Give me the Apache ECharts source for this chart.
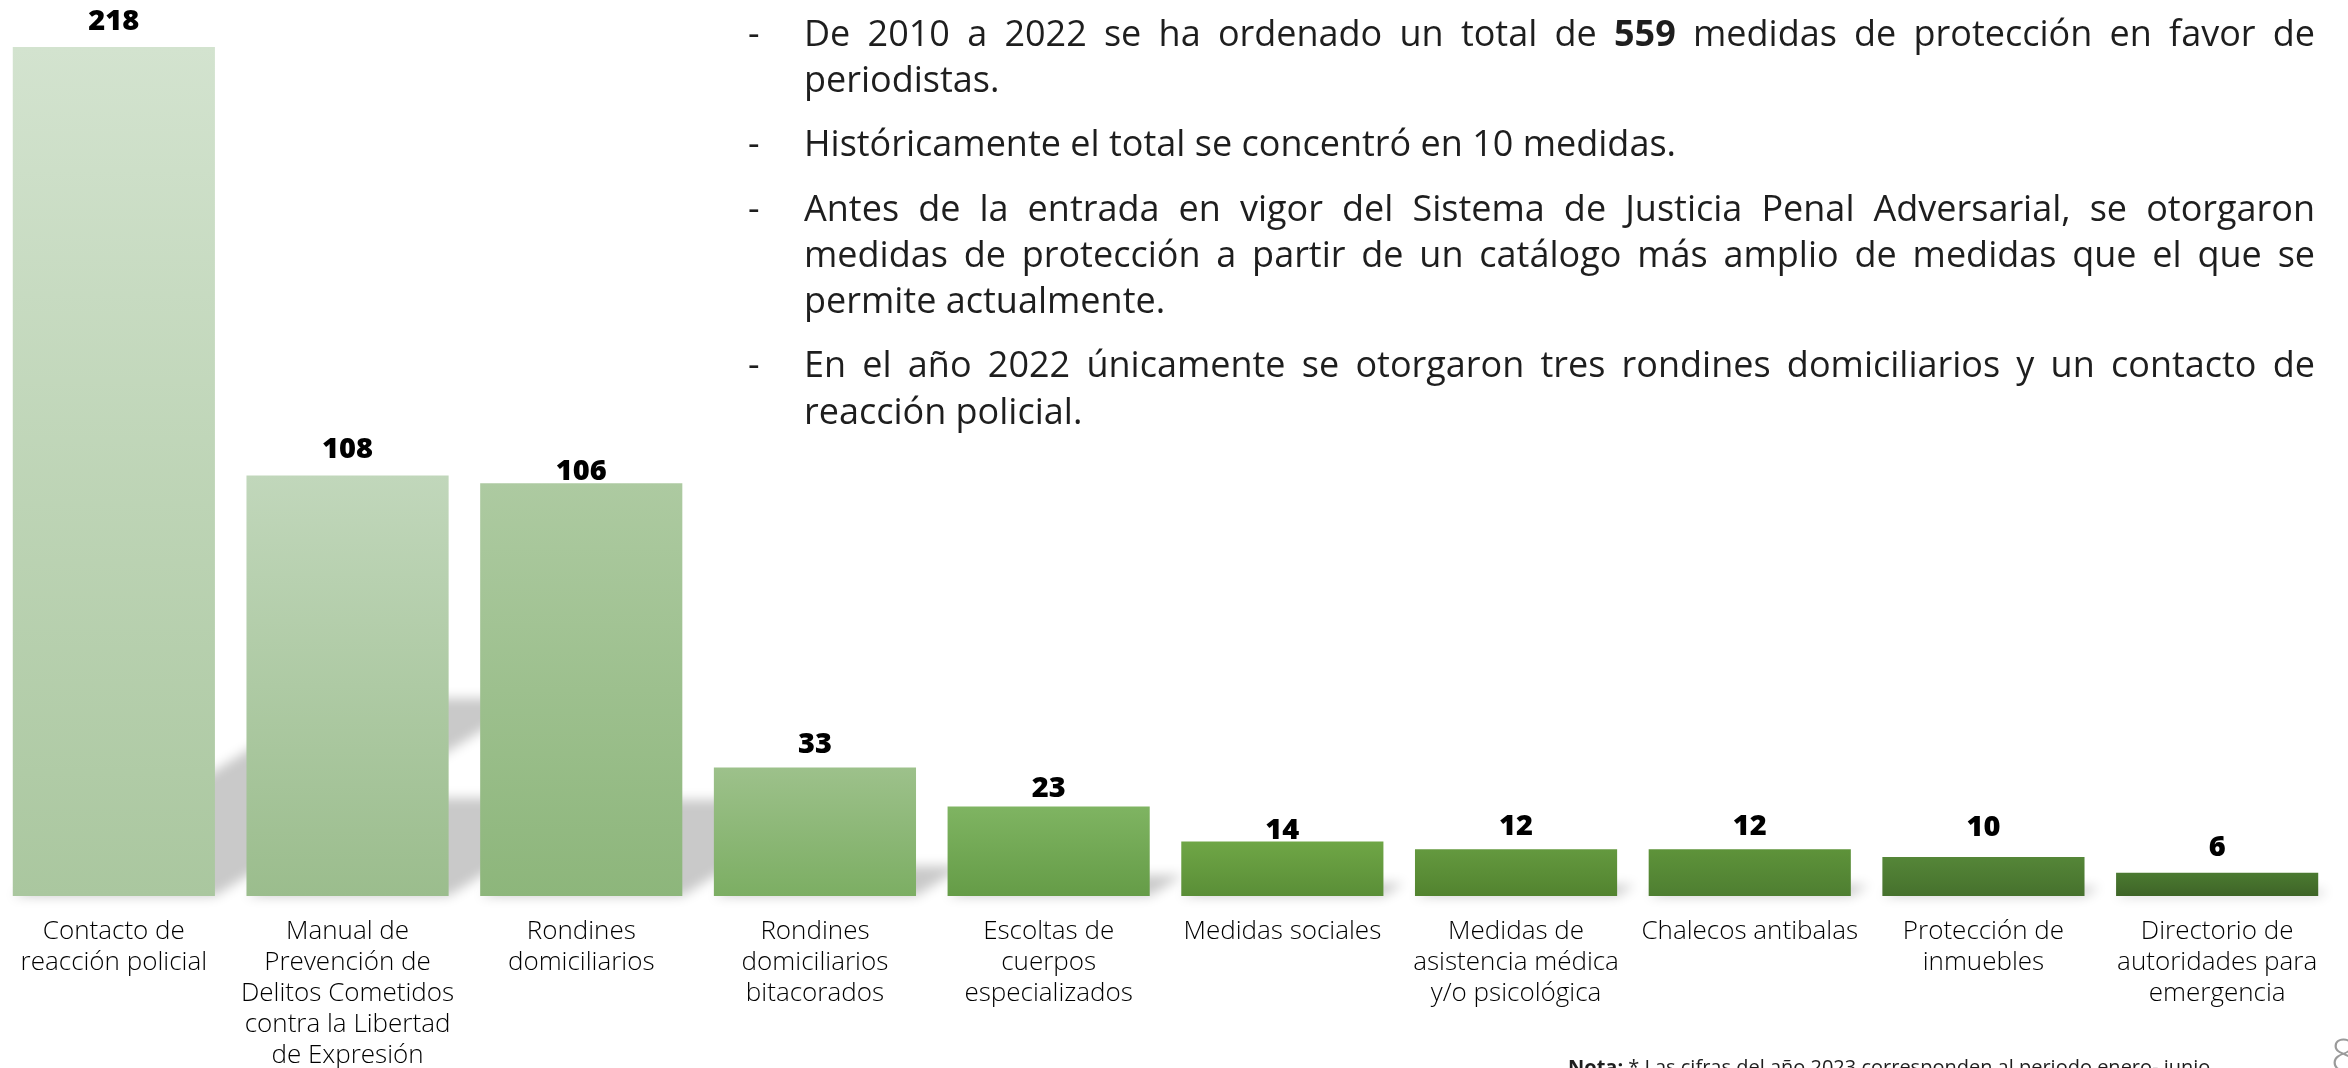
<!DOCTYPE html>
<html lang="es">
<head>
<meta charset="utf-8">
<title>Medidas de protección a periodistas 2010-2022</title>
<script src="https://cdn.jsdelivr.net/npm/echarts@6/dist/echarts.min.js"></script>
<style>
  html, body { margin: 0; padding: 0; background: #ffffff; }
  #chart { width: 2348px; height: 1068px; }
</style>
</head>
<body>
<div id="chart"></div>
<script>
// Medidas de protección otorgadas a periodistas, 2010-2022
const categories = [
  'Contacto de\nreacción policial',
  'Manual de\nPrevención de\nDelitos Cometidos\ncontra la Libertad\nde Expresión',
  'Rondines\ndomiciliarios',
  'Rondines\ndomiciliarios\nbitacorados',
  'Escoltas de\ncuerpos\nespecializados',
  'Medidas sociales',
  'Medidas de\nasistencia médica\ny/o psicológica',
  'Chalecos antibalas',
  'Protección de\ninmuebles',
  'Directorio de\nautoridades para\nemergencia'
];
const values = [218, 108, 106, 33, 23, 14, 12, 12, 10, 6];

// Bullet text beside the chart; **word** is set in bold
const notes = [
  ['De 2010 a 2022 se ha ordenado un total de **559** medidas de protección en favor de',
   'periodistas.'],
  ['Históricamente el total se concentró en 10 medidas.'],
  ['Antes de la entrada en vigor del Sistema de Justicia Penal Adversarial, se otorgaron',
   'medidas de protección a partir de un catálogo más amplio de medidas que el que se',
   'permite actualmente.'],
  ['En el año 2022 únicamente se otorgaron tres rondines domiciliarios y un contacto de',
   'reacción policial.']
];
const footNote = 'Las cifras del año 2023 corresponden al periodo enero- junio.';
const pageNumber = '8';

// ---- styling ----
const barTop    = ['#d3e3cf', '#c1d7bb', '#adcaa1', '#9dc18b', '#7fb462', '#6fa646', '#64993f', '#5e933a', '#558638', '#4b7a31'];
const barBottom = ['#aac79f', '#9bbd8d', '#8db67b', '#7cae63', '#659c47', '#5a8e37', '#52832f', '#4e7e31', '#46712d', '#3e6427'];
const labelGap  = [15, 15, 1, 12, 7, 0, 12, 12, 19, 14];   // space between value and bar top
const BAR_RATIO = 0.865;
const FONT = '"Open Sans", Lato, sans-serif';
const TEXT_COLOR = '#1e1e1e';

const chart = echarts.init(document.getElementById('chart'), null, { renderer: 'canvas' });

// ---- justified bullet text, laid out word by word ----
const measureCtx = document.createElement('canvas').getContext('2d');
function textWidth(str, size, weight) {
  measureCtx.font = weight + ' ' + size + 'px ' + FONT;
  return measureCtx.measureText(str).width;
}
function buildNotes() {
  const els = [];
  const size = 36, left = 804, right = 2315, bulletX = 748;
  const lineStep = 46.3, paraGap = 18;
  let baseline = 48;
  notes.forEach((para) => {
    els.push({
      type: 'text', x: bulletX, y: baseline - 0.35 * size, silent: true,
      style: { text: '-', font: '400 ' + size + 'px ' + FONT, fill: TEXT_COLOR, verticalAlign: 'middle' }
    });
    para.forEach((line, li) => {
      const words = line.split(' ').map((w) => {
        const bold = /^\*\*.*\*\*$/.test(w);
        return { text: bold ? w.slice(2, -2) : w, weight: bold ? 700 : 400 };
      });
      words.forEach((w) => { w.width = textWidth(w.text, size, w.weight); });
      const total = words.reduce((s, w) => s + w.width, 0);
      const isLast = li === para.length - 1;
      const gap = isLast || words.length < 2
        ? textWidth(' ', size, 400)
        : (right - left - total) / (words.length - 1);
      let x = left;
      words.forEach((w) => {
        els.push({
          type: 'text', x: x, y: baseline - 0.35 * size, silent: true,
          style: { text: w.text, font: w.weight + ' ' + size + 'px ' + FONT, fill: TEXT_COLOR, verticalAlign: 'middle' }
        });
        x += w.width + gap;
      });
      baseline += lineStep;
    });
    baseline += paraGap;
  });
  return els;
}

// ---- soft perspective shadow behind each bar ----
const OFF = 6000;
function renderShadow(params, api) {
  const idx = api.value(0);
  const v = api.value(1);
  const base = api.coord([idx, 0]);
  const top = api.coord([idx, v]);
  const bw = api.size([1, 0])[0] * BAR_RATIO;
  const h = base[1] - top[1];
  const sh = h * 0.233;
  const d = sh / 0.62;
  const xL = base[0] - bw / 2, xR = base[0] + bw / 2, y0 = base[1];
  return {
    type: 'polygon',
    silent: true,
    shape: { points: [[xL - OFF, y0], [xR - OFF, y0], [xR + d - OFF, y0 - sh], [xL + d - OFF, y0 - sh]] },
    style: { fill: '#000', shadowColor: '#c9c9c9', shadowBlur: 12, shadowOffsetX: OFF, shadowOffsetY: 0 }
  };
}

const option = {
  backgroundColor: '#ffffff',
  animation: false,
  grid: { left: -3, right: 14, top: 47, bottom: 172, containLabel: false, outerBoundsMode: 'none' },
  xAxis: {
    type: 'category',
    data: categories,
    axisLine: { show: false },
    axisTick: { show: false },
    axisLabel: {
      interval: 0,
      margin: 20,
      fontFamily: FONT,
      fontWeight: 300,
      fontSize: 26,
      lineHeight: 31,
      color: '#000',
      align: 'center'
    }
  },
  yAxis: {
    type: 'value', min: 0, max: 218,
    show: false, splitLine: { show: false }
  },
  series: [
    {
      type: 'custom',
      z: 1,
      clip: false,
      renderItem: renderShadow,
      data: values.map((v, i) => [i, v])
    },
    {
      type: 'bar',
      z: 2,
      barWidth: (BAR_RATIO * 100) + '%',
      data: values.map((v, i) => ({
        value: v,
        itemStyle: {
          color: new echarts.graphic.LinearGradient(0, 0, 0, 1, [
            { offset: 0, color: barTop[i] },
            { offset: 1, color: barBottom[i] }
          ])
        },
        label: { distance: labelGap[i] - 4 }
      })),
      label: {
        show: true,
        position: 'top',
        fontFamily: FONT,
        fontWeight: 800,
        fontSize: 29,
        color: '#000'
      }
    }
  ],
  graphic: buildNotes().concat([
    {
      type: 'text', left: 1568, top: 1058, silent: true,
      style: {
        text: '{b|Nota:} * ' + footNote,
        font: '400 20px ' + FONT,
        fill: TEXT_COLOR,
        rich: { b: { fontWeight: 700, fontSize: 20, fontFamily: FONT, fill: TEXT_COLOR } }
      }
    },
    {
      type: 'text', left: 2331, top: 1036, silent: true,
      style: { text: pageNumber, font: '300 44px ' + FONT, fill: '#9a9a9a' }
    }
  ])
};

chart.setOption(option);
</script>
</body>
</html>
